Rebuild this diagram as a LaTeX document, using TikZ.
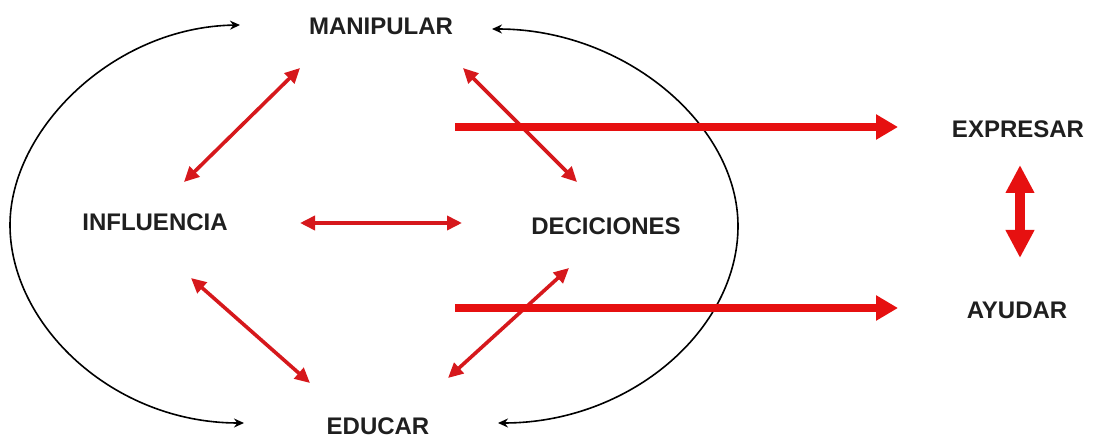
\documentclass[tikz,border=0pt]{standalone}
\usepackage{fontspec}
\setmainfont{Liberation Sans}
\usetikzlibrary{arrows.meta}
\definecolor{rd}{RGB}{230,16,16}
\definecolor{rdk}{RGB}{214,24,28}
\begin{document}
\begin{tikzpicture}[x=0.5pt,y=-0.5pt,
  lbl/.style={font=\bfseries\fontsize{12}{14}\selectfont, inner sep=0pt, text=black!88},
  rthin/.style={draw=rdk, line width=1.8pt, {Triangle[length=7.5pt,width=7pt]}-{Triangle[length=7.5pt,width=7pt]}},
  rthick/.style={draw=rd, line width=4pt, -{Triangle[length=11pt,width=12pt]}},
  rvert/.style={draw=rd, line width=5pt, {Triangle[length=14pt,width=13.5pt]}-{Triangle[length=14pt,width=13.5pt]}},
  blkarc/.style={draw=black, line width=0.8pt, {Stealth[length=5pt,width=4.5pt]}-{Stealth[length=5pt,width=4.5pt]}}]
\useasboundingbox (0,0) rectangle (1098,438);

% labels
\node[lbl] (man) at (381,26) {MANIPULAR};
\node[lbl] (inf) at (155,222) {INFLUENCIA};
\node[lbl] (dec) at (606,226) {DECICIONES};
\node[lbl] (edu) at (378,426) {EDUCAR};
\node[lbl] (exp) at (1018,129) {EXPRESAR};
\node[lbl] (ayu) at (1017,310) {AYUDAR};

% arrow end points
\coordinate (lt) at (240,25);
\coordinate (lb) at (244,423);
\coordinate (rt) at (492,29);
\coordinate (rb) at (498,423);

\coordinate (mi1) at (300,68);  \coordinate (mi2) at (184,182);
\coordinate (md1) at (463,68);  \coordinate (md2) at (577,182);
\coordinate (id1) at (300,223); \coordinate (id2) at (462,223);
\coordinate (ie1) at (191,278); \coordinate (ie2) at (310,383);
\coordinate (de1) at (569,268); \coordinate (de2) at (448,378);

\coordinate (e1) at (455,127); \coordinate (e2) at (898,127);
\coordinate (a1) at (455,308); \coordinate (a2) at (898,308);
\coordinate (v1) at (1020,165); \coordinate (v2) at (1020,258);

% black arcs
\draw[blkarc] (lt) .. controls (113,27) and (10,130) .. (10,225)
  .. controls (10,325) and (113,423) .. (lb);
\draw[blkarc] (rt) .. controls (625,29) and (738,125) .. (738,226)
  .. controls (738,330) and (630,423) .. (rb);

% thin red double arrows
\draw[rthin] (mi1) -- (mi2);
\draw[rthin] (md1) -- (md2);
\draw[rthin] (id1) -- (id2);
\draw[rthin] (ie1) -- (ie2);
\draw[rthin] (de1) -- (de2);

% thick red arrows
\draw[rthick] (e1) -- (e2);
\draw[rthick] (a1) -- (a2);
\draw[rvert] (v1) -- (v2);
\end{tikzpicture}
\end{document}
